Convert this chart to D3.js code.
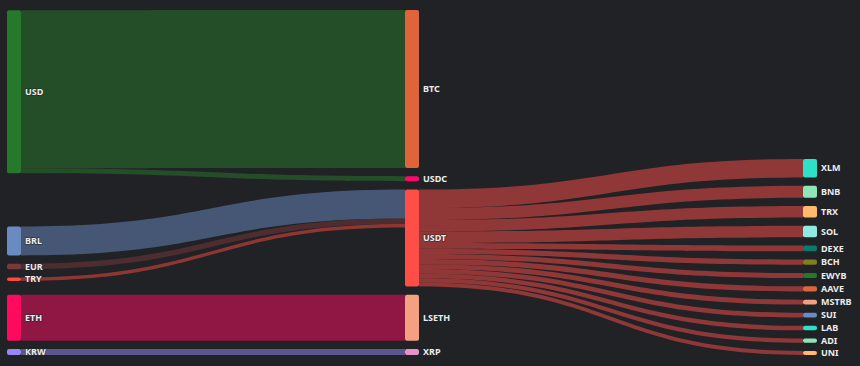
<!DOCTYPE html>
<html>
<head>
<meta charset="utf-8">
<script src="https://cdn.jsdelivr.net/npm/d3@7"></script>
<style>
  html, body { margin: 0; padding: 0; background: #202226; }
  svg { display: block; }
  .node-label {
    font-family: "Noto Sans", "Open Sans", sans-serif;
    font-size: 9px;
    font-weight: 700;
    fill: #ececec;
    stroke: rgba(32, 34, 38, 0.6);
    stroke-width: 1.5px;
    paint-order: stroke;
  }
</style>
</head>
<body>
<svg id="chart"></svg>
<script>
const WIDTH = 860;
const HEIGHT = 366;

// nodes (in stacking order per column)
const nodeNames = [
  "USD", "BRL", "EUR", "TRY", "ETH", "KRW",
  "BTC", "USDC", "USDT", "LSETH", "XRP",
  "XLM", "BNB", "TRX", "SOL", "DEXE", "BCH", "EWYB", "AAVE", "MSTRB", "SUI", "LAB", "ADI", "UNI"
];
const nodeColors = [
  "#26792a", "#6a8bc2", "#7a383a", "#ff4a3d", "#ff0a5f", "#9a87f7",
  "#e0643a", "#ff0a6c", "#ff4d47", "#f5a080", "#e890c8",
  "#2ee0c8", "#8ee6b8", "#ffb86c", "#90e8e0", "#0a7a6a", "#7e7e22", "#247a24", "#e0643a", "#f4a080", "#6a8bc2", "#2ee0c8", "#8ee6b8", "#ffb86c"
];

// flows
const linkSources = [
  "USD", "USD", "BRL", "EUR", "TRY", "ETH", "KRW",
  "USDT", "USDT", "USDT", "USDT", "USDT", "USDT", "USDT", "USDT", "USDT", "USDT", "USDT", "USDT", "USDT"
];
const linkTargets = [
  "BTC", "USDC", "USDT", "USDT", "USDT", "LSETH", "XRP",
  "XLM", "BNB", "TRX", "SOL", "DEXE", "BCH", "EWYB", "AAVE", "MSTRB", "SUI", "LAB", "ADI", "UNI"
];
const linkValues = [
  158, 5, 29, 5.5, 3.5, 46, 6,
  18.6, 12, 11.5, 11.5, 5.6, 5.3, 5.1, 5.1, 4.9, 4.7, 4.5, 4.2, 4
];

const NODE_WIDTH = 14;
const NODE_GAP = 8.25;
const ITERATIONS = 32;
const extent = { x0: 7, y0: 10, x1: 817, y1: 355 };

const svg = d3.select("#chart").attr("width", WIDTH).attr("height", HEIGHT);

function buildGraph() {
  const nodes = nodeNames.map((name, i) => ({ name, color: nodeColors[i], inLinks: [], outLinks: [] }));
  const byName = new Map(nodes.map((n) => [n.name, n]));
  const links = linkValues.map((value, i) => ({
    source: byName.get(linkSources[i]),
    target: byName.get(linkTargets[i]),
    value,
  }));
  links.forEach((l) => {
    l.source.outLinks.push(l);
    l.target.inLinks.push(l);
  });
  nodes.forEach((n) => {
    n.value = Math.max(d3.sum(n.inLinks, (l) => l.value), d3.sum(n.outLinks, (l) => l.value));
  });
  return { nodes, links };
}

function center(n) {
  return n.y + n.dy / 2;
}

function resolveCollisions(columns, height) {
  columns.forEach((col) => {
    col.sort((a, b) => a.y - b.y);
    let y0 = 0;
    col.forEach((n) => {
      const d = y0 - n.y;
      if (d > 0) n.y += d;
      y0 = n.y + n.dy + NODE_GAP;
    });
    const over = y0 - NODE_GAP - height;
    if (over > 0) {
      let last = col[col.length - 1];
      last.y -= over;
      y0 = last.y;
      for (let i = col.length - 2; i >= 0; i--) {
        const n = col[i];
        const d = n.y + n.dy + NODE_GAP - y0;
        if (d > 0) n.y -= d;
        y0 = n.y;
      }
    }
  });
}

function layout(graph) {
  const { nodes, links } = graph;

  // column depth, breadth first from the sources
  let current = nodes.filter((n) => !n.inLinks.length);
  let depth = 0;
  while (current.length) {
    const next = [];
    current.forEach((n) => {
      n.depth = depth;
      n.outLinks.forEach((l) => {
        if (!next.includes(l.target)) next.push(l.target);
      });
    });
    current = next;
    depth++;
  }
  const maxDepth = d3.max(nodes, (n) => n.depth);
  const columns = d3.range(maxDepth + 1).map((d) => nodes.filter((n) => n.depth === d));

  const x = d3.scaleLinear().domain([0, maxDepth]).range([extent.x0, extent.x1 - NODE_WIDTH]);
  const height = extent.y1 - extent.y0;
  const ky = d3.min(columns, (col) => (height - (col.length - 1) * NODE_GAP) / d3.sum(col, (n) => n.value));
  const size = d3.scaleLinear().domain([0, 1]).range([0, ky]);

  nodes.forEach((n) => {
    n.x0 = x(n.depth);
    n.x1 = n.x0 + NODE_WIDTH;
    n.dy = size(n.value);
  });
  columns.forEach((col) => col.forEach((n, i) => (n.y = i)));
  links.forEach((l) => (l.dy = size(l.value)));

  resolveCollisions(columns, height);
  let alpha = 1;
  for (let it = ITERATIONS; it > 0; it--) {
    alpha *= 0.99;
    columns.slice().reverse().forEach((col) => {
      col.forEach((n) => {
        if (!n.outLinks.length) return;
        const c = d3.sum(n.outLinks, (l) => center(l.target) * l.value) / d3.sum(n.outLinks, (l) => l.value);
        n.y += (c - center(n)) * alpha;
      });
    });
    resolveCollisions(columns, height);
    columns.forEach((col) => {
      col.forEach((n) => {
        if (!n.inLinks.length) return;
        const c = d3.sum(n.inLinks, (l) => center(l.source) * l.value) / d3.sum(n.inLinks, (l) => l.value);
        n.y += (c - center(n)) * alpha;
      });
    });
    resolveCollisions(columns, height);
  }

  nodes.forEach((n) => {
    n.y0 = extent.y0 + n.y;
    n.y1 = n.y0 + n.dy;
    n.outLinks.sort((a, b) => a.target.y - b.target.y);
    n.inLinks.sort((a, b) => a.source.y - b.source.y);
  });
  nodes.forEach((n) => {
    let sy = n.y0;
    n.outLinks.forEach((l) => {
      l.sy = sy;
      sy += l.dy;
    });
    let ty = n.y0;
    n.inLinks.forEach((l) => {
      l.ty = ty;
      ty += l.dy;
    });
  });
}

function linkArea(l) {
  const x0 = l.source.x1;
  const x1 = l.target.x0;
  const xm = (x0 + x1) / 2;
  const p = d3.path();
  p.moveTo(x0, l.sy);
  p.bezierCurveTo(xm, l.sy, xm, l.ty, x1, l.ty);
  p.lineTo(x1, l.ty + l.dy);
  p.bezierCurveTo(xm, l.ty + l.dy, xm, l.sy + l.dy, x0, l.sy + l.dy);
  p.closePath();
  return p.toString();
}

function render() {
  const graph = buildGraph();
  layout(graph);

  svg.append("rect").attr("width", WIDTH).attr("height", HEIGHT).attr("fill", "#202226");

  svg
    .append("g")
    .selectAll("path")
    .data(graph.links)
    .join("path")
    .attr("d", linkArea)
    .attr("fill", (d) => d.source.color)
    .attr("fill-opacity", 0.5);

  svg
    .append("g")
    .selectAll("rect")
    .data(graph.nodes)
    .join("rect")
    .attr("x", (d) => d.x0)
    .attr("y", (d) => d.y0)
    .attr("width", NODE_WIDTH)
    .attr("height", (d) => Math.max(1, d.y1 - d.y0))
    .attr("rx", 2)
    .attr("fill", (d) => d.color);

  svg
    .append("g")
    .selectAll("text")
    .data(graph.nodes)
    .join("text")
    .attr("class", "node-label")
    .attr("x", (d) => d.x1 + 4)
    .attr("y", (d) => (d.y0 + d.y1) / 2)
    .attr("dy", "0.35em")
    .text((d) => d.name);
}

render();
</script>
</body>
</html>
